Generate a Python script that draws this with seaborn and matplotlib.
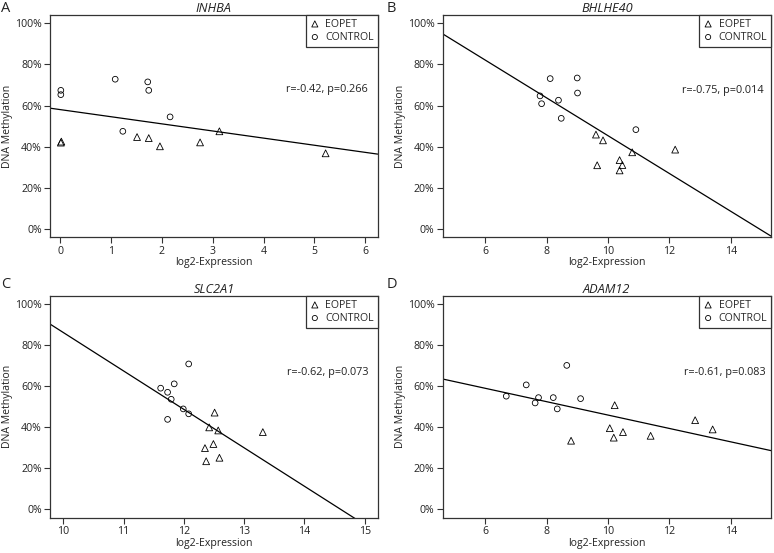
import numpy as np
import pandas as pd
import matplotlib
matplotlib.use("Agg")
import matplotlib.pyplot as plt
import seaborn as sns

sns.set_style("ticks")
plt.rcParams["font.family"] = ["Open Sans", "DejaVu Sans"]

# ---- data ----
genes = ["INHBA", "BHLHE40", "SLC2A1", "ADAM12"]
panel_letters = ["A", "B", "C", "D"]
stats_text = ["r=-0.42, p=0.266", "r=-0.75, p=0.014", "r=-0.62, p=0.073", "r=-0.61, p=0.083"]

inhba_eopet_x = [0.01, 0.02, 1.51, 1.74, 1.96, 2.75, 3.13, 5.22]
inhba_eopet_y = [0.420, 0.425, 0.447, 0.442, 0.402, 0.421, 0.475, 0.368]
inhba_ctrl_x = [0.01, 0.01, 1.08, 1.23, 1.72, 1.74, 2.16]
inhba_ctrl_y = [0.674, 0.653, 0.728, 0.475, 0.715, 0.674, 0.545]

bhlhe40_eopet_x = [9.61, 9.84, 9.65, 10.38, 10.47, 10.38, 10.79, 12.19]
bhlhe40_eopet_y = [0.459, 0.431, 0.310, 0.335, 0.311, 0.285, 0.373, 0.386]
bhlhe40_ctrl_x = [8.12, 9.00, 9.01, 7.79, 7.84, 8.39, 8.48, 10.91]
bhlhe40_ctrl_y = [0.731, 0.734, 0.661, 0.647, 0.609, 0.626, 0.538, 0.483]

slc2a1_eopet_x = [12.51, 12.42, 12.57, 12.49, 12.35, 12.37, 12.59, 13.31]
slc2a1_eopet_y = [0.472, 0.400, 0.385, 0.319, 0.299, 0.235, 0.252, 0.377]
slc2a1_ctrl_x = [11.615, 11.73, 11.84, 11.79, 12.08, 11.99, 12.08, 11.73]
slc2a1_ctrl_y = [0.591, 0.571, 0.612, 0.537, 0.709, 0.490, 0.466, 0.439]

adam12_eopet_x = [8.80, 10.06, 10.22, 10.19, 10.49, 11.39, 12.84, 13.41]
adam12_eopet_y = [0.335, 0.396, 0.508, 0.350, 0.377, 0.359, 0.435, 0.390]
adam12_ctrl_x = [6.69, 7.34, 7.63, 7.74, 8.22, 8.35, 8.66, 9.11]
adam12_ctrl_y = [0.552, 0.607, 0.519, 0.545, 0.545, 0.490, 0.702, 0.540]

eopet_x = [inhba_eopet_x, bhlhe40_eopet_x, slc2a1_eopet_x, adam12_eopet_x]
eopet_y = [inhba_eopet_y, bhlhe40_eopet_y, slc2a1_eopet_y, adam12_eopet_y]
ctrl_x = [inhba_ctrl_x, bhlhe40_ctrl_x, slc2a1_ctrl_x, adam12_ctrl_x]
ctrl_y = [inhba_ctrl_y, bhlhe40_ctrl_y, slc2a1_ctrl_y, adam12_ctrl_y]

x_ticks = [[0, 1, 2, 3, 4, 5, 6], [6, 8, 10, 12, 14], [10, 11, 12, 13, 14, 15], [6, 8, 10, 12, 14]]
y_ticks = [0, 0.2, 0.4, 0.6, 0.8, 1.0]
y_tick_labels = ["0%", "20%", "40%", "60%", "80%", "100%"]

# ---- layout ----
W, H = 774, 553
fig = plt.figure(figsize=(W / 100, H / 100), dpi=100)
boxes = [(50, 15, 377.7, 237.3), (442.7, 15, 771, 237.3),
         (50, 296, 377.7, 517.7), (442.7, 296, 771, 517.7)]
xlims = [(-0.203, 6.245), (4.62, 15.31), (9.779, 15.216), (4.62, 15.31)]
stat_pos = [(0.971, 0.663), (0.978, 0.66), (0.971, 0.654), (0.985, 0.654)]
edge = "#333333"
txt = "#222222"

for i in range(4):
    l, t, r, b = boxes[i]
    ax = fig.add_axes([l / W, 1 - b / H, (r - l) / W, (b - t) / H])
    ax.set_xlim(*xlims[i])
    ax.set_ylim(-0.04, 1.04)

    df_e = pd.DataFrame({"x": eopet_x[i], "y": eopet_y[i]})
    df_c = pd.DataFrame({"x": ctrl_x[i], "y": ctrl_y[i]})
    df_all = pd.concat([df_e, df_c], ignore_index=True)

    sns.regplot(data=df_all, x="x", y="y", ax=ax, scatter=False, ci=None,
                truncate=False, color="black", line_kws={"lw": 0.9})
    sns.scatterplot(data=df_e, x="x", y="y", ax=ax, marker="^", s=24,
                    facecolors="none", edgecolor="black", linewidth=0.6,
                    label="EOPET")
    sns.scatterplot(data=df_c, x="x", y="y", ax=ax, marker="o", s=17,
                    facecolors="none", edgecolor="black", linewidth=0.6,
                    label="CONTROL")
    ax.set_xlim(*xlims[i])
    ax.set_ylim(-0.04, 1.04)

    ax.set_xticks(x_ticks[i])
    ax.set_xticklabels([str(v) for v in x_ticks[i]])
    ax.set_yticks(y_ticks)
    ax.set_yticklabels(y_tick_labels)
    ax.tick_params(axis="both", labelsize=7.6, length=4, width=0.8, color=edge,
                   pad=2, labelcolor=txt)
    for sp in ax.spines.values():
        sp.set_visible(True)
        sp.set_color(edge)
        sp.set_linewidth(0.9)

    ax.set_xlabel("log2-Expression", fontsize=7.6, labelpad=0.5, color=txt)
    ax.set_ylabel("DNA Methylation", fontsize=7.6, labelpad=1.5, color=txt)
    ax.set_title(genes[i], fontsize=9.2, style="italic", pad=2.5, color=txt)
    ax.text(stat_pos[i][0], stat_pos[i][1], stats_text[i], transform=ax.transAxes,
            ha="right", va="center", fontsize=7.8, color=txt)

    leg = ax.legend(loc="upper right", bbox_to_anchor=(1.0, 1.0), borderaxespad=0,
                    frameon=True, fancybox=False, fontsize=7.6, handletextpad=0.5,
                    handlelength=1.0, borderpad=0.35, labelspacing=0.2,
                    markerscale=0.9)
    leg.get_frame().set_edgecolor(edge)
    leg.get_frame().set_linewidth(0.9)
    leg.get_frame().set_alpha(1)

letter_pos = [(1, 1), (387, 1), (1, 277), (387, 277)]
for i in range(4):
    fig.text(letter_pos[i][0] / W, 1 - letter_pos[i][1] / H, panel_letters[i],
             ha="left", va="top", fontsize=10.5, color=txt)

fig.savefig("out.png", dpi=100)
